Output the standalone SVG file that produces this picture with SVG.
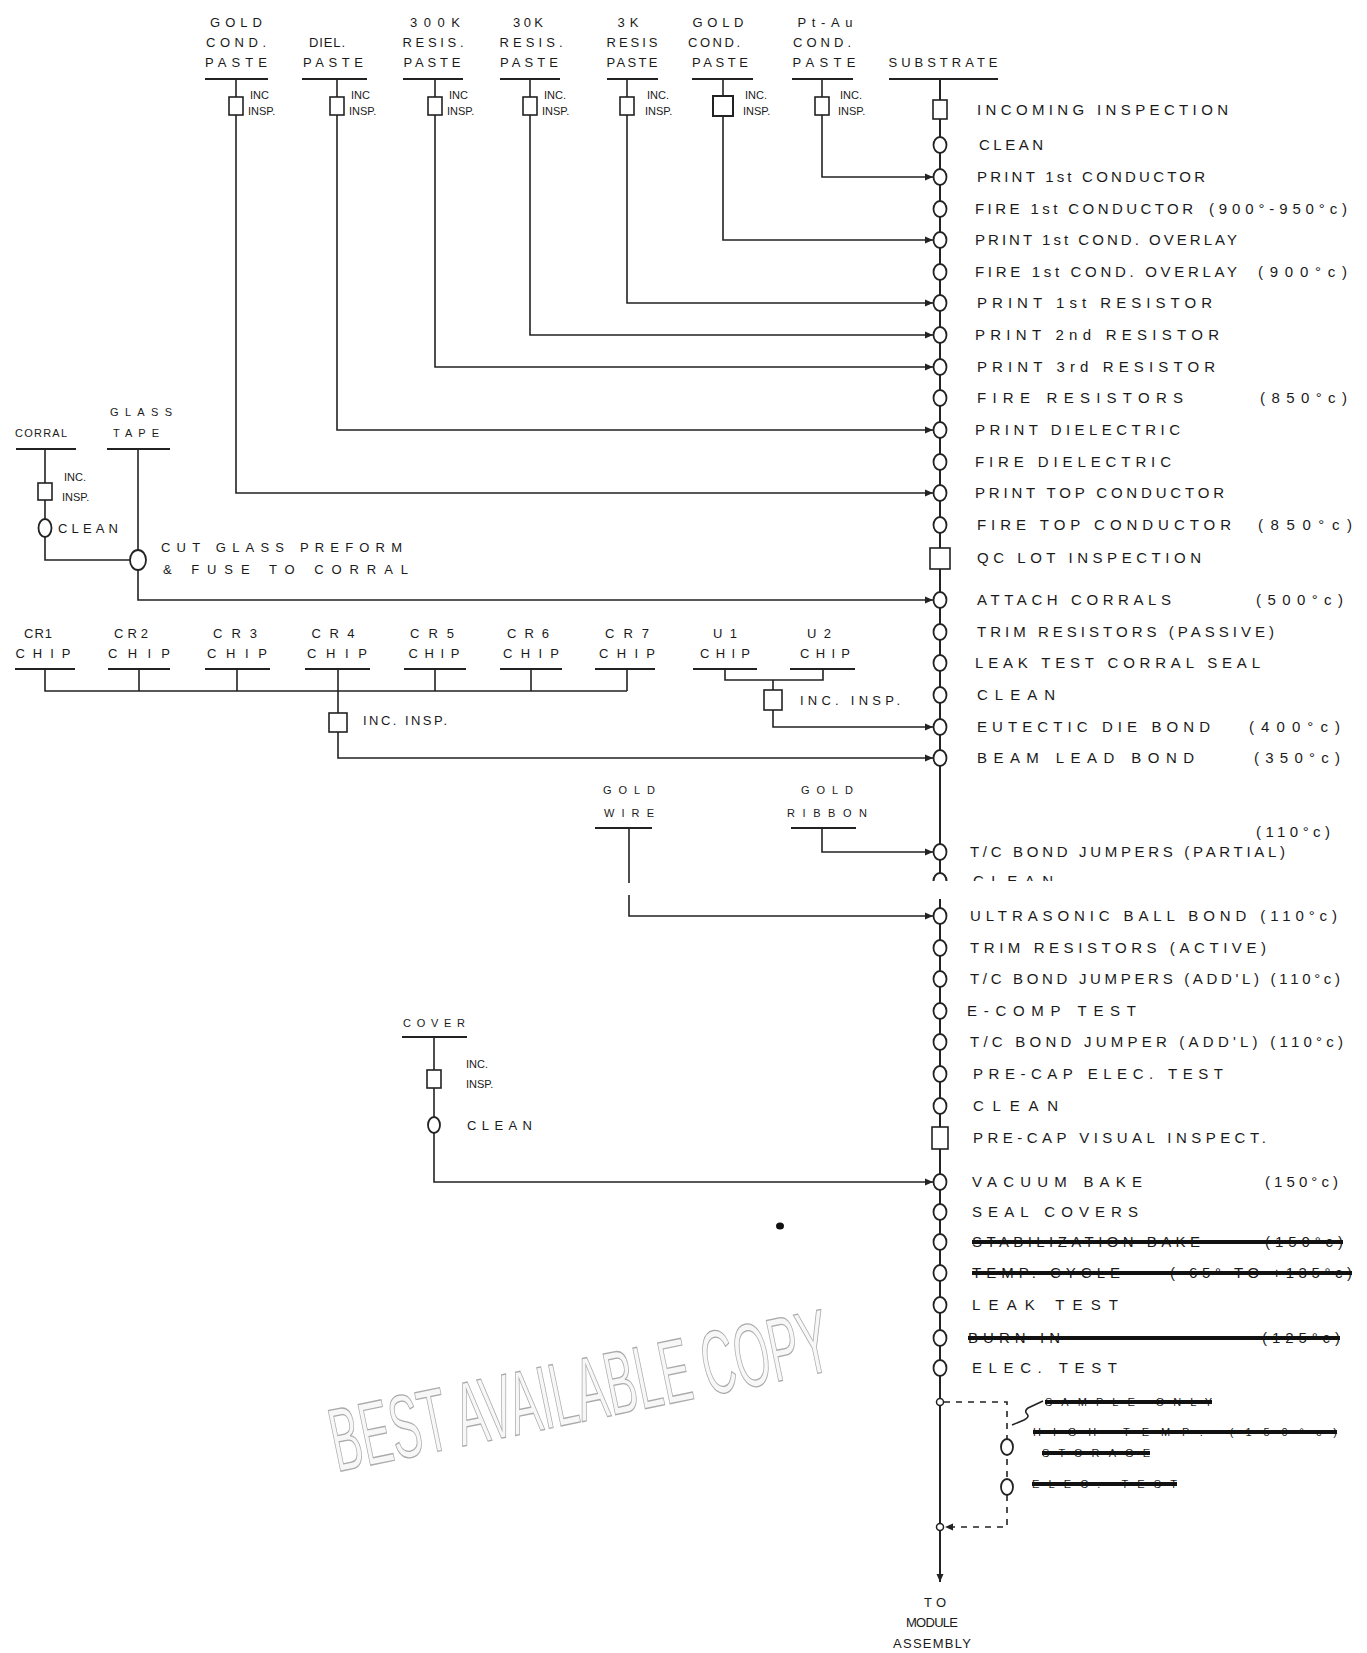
<svg xmlns="http://www.w3.org/2000/svg" width="1367" height="1653" viewBox="0 0 1367 1653">
<style>
.ln{stroke:#222;stroke-width:1.6;fill:none}
.sp{stroke:#222;stroke-width:2;fill:none}
.ds{stroke:#222;stroke-width:1.6;fill:none;stroke-dasharray:6 6}
.bar{stroke:#222;stroke-width:2}
.nd{fill:#fff;stroke:#222;stroke-width:1.8}
.bx{fill:#fff;stroke:#222;stroke-width:1.6}
.t{font-family:"Liberation Sans",Arial,sans-serif;font-size:15px;fill:#1a1a1a}
.h{font-family:"Liberation Sans",Arial,sans-serif;font-size:13px;fill:#1a1a1a}
.s{font-family:"Liberation Sans",Arial,sans-serif;font-size:11px;fill:#1a1a1a}
.m{text-anchor:middle}
.e{text-anchor:end}
.st{stroke:#111;stroke-width:4;fill:none}
.wm{font-family:"Liberation Sans",Arial,sans-serif;font-size:90px;fill:#f7f7f7;stroke:#aaa;stroke-width:1.3}
</style>
<defs>
<marker id="ar" markerUnits="userSpaceOnUse" markerWidth="9" markerHeight="8" refX="8" refY="4" orient="auto"><path d="M0,0.5 L8,4 L0,7.5 z" fill="#222"/></marker>
<clipPath id="halfclean"><rect x="960" y="868" width="140" height="13"/></clipPath>
</defs>
<rect width="1367" height="1653" fill="#fff"/>

<g id="watermark">
<text class="wm" transform="translate(337,1472) rotate(-11.6) scale(0.48,1)" textLength="1058" lengthAdjust="spacingAndGlyphs">BEST AVAILABLE COPY</text>
<ellipse cx="780" cy="1226" rx="4" ry="3.5" fill="#111"/>
</g>

<g id="connectors">
<path class="sp" d="M940,79 V873"/>
<path class="sp" d="M933.5,881 A6.5,8 0 0 1 946.5,881"/>
<path class="sp" d="M940,899 V1582" marker-end="url(#ar)"/>
<path class="ln" d="M822,79 V177 H933" marker-end="url(#ar)"/>
<path class="ln" d="M723,79 V240 H933" marker-end="url(#ar)"/>
<path class="ln" d="M627,79 V303 H933" marker-end="url(#ar)"/>
<path class="ln" d="M530,79 V335 H933" marker-end="url(#ar)"/>
<path class="ln" d="M435,79 V367 H933" marker-end="url(#ar)"/>
<path class="ln" d="M337,79 V430 H933" marker-end="url(#ar)"/>
<path class="ln" d="M236,79 V493 H933" marker-end="url(#ar)"/>
<path class="ln" d="M45,449 V560 H130"/>
<path class="ln" d="M138,449 V600 H933" marker-end="url(#ar)"/>
<path class="ln" d="M45,669 V691 H627 M139,669 V691 M237,669 V691 M435,669 V691 M531,669 V691 M627,669 V691"/>
<path class="ln" d="M338,669 V758 H933" marker-end="url(#ar)"/>
<path class="ln" d="M725,669 V680 H823 V669 M773,680 V727 H933" marker-end="url(#ar)"/>
<path class="ln" d="M629,828 V883 M629,895 V916 H933" marker-end="url(#ar)"/>
<path class="ln" d="M822,828 V852 H933" marker-end="url(#ar)"/>
<path class="ln" d="M434,1037 V1182 H933" marker-end="url(#ar)"/>
<path class="ds" d="M944,1402 H1007 V1527 H945" marker-end="url(#ar)"/>
<path class="ln" d="M1043,1401 L1028,1408 q-4,3 -1,6 q3,3 -3,6 L1012,1425"/>
</g>

<g id="src-gold-cond-1">
<text class="h m" x="236" y="27" textLength="52">GOLD</text>
<text class="h m" x="236" y="47" textLength="60">COND.</text>
<text class="h m" x="236" y="67" textLength="62">PASTE</text>
<line class="bar" x1="205" y1="79" x2="268" y2="79"/>
<rect class="bx" x="229" y="97" width="14" height="18"/>
<text class="s" x="250" y="99">INC</text><text class="s" x="248" y="115">INSP.</text>
</g>
<g id="src-diel">
<text class="h m" x="327" y="47" textLength="36">DIEL.</text>
<text class="h m" x="333" y="67" textLength="60">PASTE</text>
<line class="bar" x1="302" y1="79" x2="367" y2="79"/>
<rect class="bx" x="330" y="97" width="14" height="18"/>
<text class="s" x="351" y="99">INC</text><text class="s" x="349" y="115">INSP.</text>
</g>
<g id="src-300k">
<text class="h m" x="435" y="27" textLength="50">300K</text>
<text class="h m" x="433" y="47" textLength="61">RESIS.</text>
<text class="h m" x="432" y="67" textLength="57">PASTE</text>
<line class="bar" x1="403" y1="79" x2="463" y2="79"/>
<rect class="bx" x="428" y="97" width="14" height="18"/>
<text class="s" x="449" y="99">INC</text><text class="s" x="447" y="115">INSP.</text>
</g>
<g id="src-30k">
<text class="h m" x="528" y="27" textLength="30">30K</text>
<text class="h m" x="531" y="47" textLength="63">RESIS.</text>
<text class="h m" x="529" y="67" textLength="58">PASTE</text>
<line class="bar" x1="500" y1="79" x2="560" y2="79"/>
<rect class="bx" x="523" y="97" width="14" height="18"/>
<text class="s" x="544" y="99">INC.</text><text class="s" x="542" y="115">INSP.</text>
</g>
<g id="src-3k">
<text class="h m" x="628" y="27" textLength="21">3K</text>
<text class="h m" x="632" y="47" textLength="51">RESIS</text>
<text class="h m" x="632" y="67" textLength="51">PASTE</text>
<line class="bar" x1="607" y1="79" x2="658" y2="79"/>
<rect class="bx" x="620" y="97" width="14" height="18"/>
<text class="s" x="647" y="99">INC.</text><text class="s" x="645" y="115">INSP.</text>
</g>
<g id="src-gold-cond-2">
<text class="h m" x="718" y="27" textLength="51">GOLD</text>
<text class="h m" x="714" y="47" textLength="52">COND.</text>
<text class="h m" x="720" y="67" textLength="56">PASTE</text>
<line class="bar" x1="692" y1="79" x2="753" y2="79"/>
<rect class="bx" x="713" y="96" width="20" height="20" style="stroke-width:2"/>
<text class="s" x="745" y="99">INC.</text><text class="s" x="743" y="115">INSP.</text>
</g>
<g id="src-ptau">
<text class="h m" x="825" y="27" textLength="55">Pt-Au</text>
<text class="h m" x="822" y="47" textLength="58">COND.</text>
<text class="h m" x="824" y="67" textLength="63">PASTE</text>
<line class="bar" x1="792" y1="79" x2="853" y2="79"/>
<rect class="bx" x="815" y="97" width="14" height="18"/>
<text class="s" x="840" y="99">INC.</text><text class="s" x="838" y="115">INSP.</text>
</g>
<g id="src-substrate">
<text class="h m" x="943" y="67" textLength="109">SUBSTRATE</text>
<line class="bar" x1="889" y1="79" x2="998" y2="79"/>
</g>

<g id="src-corral">
<text class="s" x="15" y="437" textLength="52">CORRAL</text>
<line class="bar" x1="16" y1="449" x2="76" y2="449"/>
<rect class="bx" x="38" y="483" width="14" height="17"/>
<text class="s" x="64" y="481">INC.</text><text class="s" x="62" y="501">INSP.</text>
<ellipse class="nd" cx="45" cy="528" rx="6.5" ry="9"/>
<text class="h" x="58" y="533" textLength="60">CLEAN</text>
</g>
<g id="src-glass-tape">
<text class="s m" x="141" y="416" textLength="62">GLASS</text>
<text class="s m" x="136" y="437" textLength="46">TAPE</text>
<line class="bar" x1="107" y1="449" x2="170" y2="449"/>
<ellipse class="nd" cx="138" cy="560" rx="8" ry="10"/>
<text class="h" x="161" y="552" textLength="241">CUT GLASS PREFORM</text>
<text class="h" x="163" y="574" textLength="245">&amp; FUSE TO CORRAL</text>
</g>

<g id="src-chips">
<text class="h m" x="38" y="638" textLength="28">CR1</text><text class="h m" x="43" y="658" textLength="55">CHIP</text>
<line class="bar" x1="15" y1="669" x2="75" y2="669"/>
<text class="h m" x="131" y="638" textLength="34">CR2</text><text class="h m" x="139" y="658" textLength="62">CHIP</text>
<line class="bar" x1="108" y1="669" x2="170" y2="669"/>
<text class="h m" x="235" y="638" textLength="44">CR3</text><text class="h m" x="237" y="658" textLength="60">CHIP</text>
<line class="bar" x1="205" y1="669" x2="270" y2="669"/>
<text class="h m" x="333" y="638" textLength="43">CR4</text><text class="h m" x="337" y="658" textLength="60">CHIP</text>
<line class="bar" x1="305" y1="669" x2="370" y2="669"/>
<text class="h m" x="432" y="638" textLength="44">CR5</text><text class="h m" x="434" y="658" textLength="51">CHIP</text>
<line class="bar" x1="404" y1="669" x2="466" y2="669"/>
<text class="h m" x="528" y="638" textLength="42">CR6</text><text class="h m" x="531" y="658" textLength="56">CHIP</text>
<line class="bar" x1="500" y1="669" x2="562" y2="669"/>
<text class="h m" x="627" y="638" textLength="44">CR7</text><text class="h m" x="627" y="658" textLength="56">CHIP</text>
<line class="bar" x1="595" y1="669" x2="655" y2="669"/>
<rect class="bx" x="329" y="713" width="18" height="19"/>
<text class="h" x="363" y="725" textLength="84">INC. INSP.</text>
</g>
<g id="src-u-chips">
<text class="h m" x="725" y="638" textLength="24">U1</text><text class="h m" x="725" y="658" textLength="50">CHIP</text>
<line class="bar" x1="693" y1="669" x2="757" y2="669"/>
<text class="h m" x="819" y="638" textLength="24">U2</text><text class="h m" x="825" y="658" textLength="50">CHIP</text>
<line class="bar" x1="790" y1="669" x2="855" y2="669"/>
<rect class="bx" x="764" y="690" width="18" height="20"/>
<text class="h" x="800" y="705" textLength="100">INC. INSP.</text>
</g>
<g id="src-gold-wire">
<text class="s m" x="629" y="794" textLength="52">GOLD</text>
<text class="s m" x="629" y="817" textLength="50">WIRE</text>
<line class="bar" x1="595" y1="828" x2="652" y2="828"/>
</g>
<g id="src-gold-ribbon">
<text class="s m" x="827" y="794" textLength="52">GOLD</text>
<text class="s m" x="827" y="817" textLength="80">RIBBON</text>
<line class="bar" x1="791" y1="828" x2="856" y2="828"/>
</g>
<g id="src-cover">
<text class="s m" x="434" y="1027" textLength="62">COVER</text>
<line class="bar" x1="402" y1="1037" x2="467" y2="1037"/>
<rect class="bx" x="427" y="1070" width="14" height="18"/>
<text class="s" x="466" y="1068">INC.</text><text class="s" x="466" y="1088">INSP.</text>
<ellipse class="nd" cx="434" cy="1125" rx="6" ry="8"/>
<text class="h" x="467" y="1130" textLength="65">CLEAN</text>
</g>

<g id="steps">
<g id="s01"><rect class="bx" x="933" y="100" width="14" height="19"/><text class="t" x="977" y="115" textLength="251">INCOMING INSPECTION</text></g>
<g id="s02"><ellipse class="nd" cx="940" cy="145" rx="6.5" ry="8"/><text class="t" x="979" y="150" textLength="64">CLEAN</text></g>
<g id="s03"><ellipse class="nd" cx="940" cy="177" rx="6.5" ry="8"/><text class="t" x="977" y="182" textLength="228">PRINT 1st CONDUCTOR</text></g>
<g id="s04"><ellipse class="nd" cx="940" cy="209" rx="6.5" ry="8"/><text class="t" x="975" y="214" textLength="218">FIRE 1st CONDUCTOR</text><text class="t" x="1209" y="214" textLength="138">(900°-950°c)</text></g>
<g id="s05"><ellipse class="nd" cx="940" cy="240" rx="6.5" ry="8"/><text class="t" x="975" y="245" textLength="262">PRINT 1st COND. OVERLAY</text></g>
<g id="s06"><ellipse class="nd" cx="940" cy="272" rx="6.5" ry="8"/><text class="t" x="975" y="277" textLength="262">FIRE 1st COND. OVERLAY</text><text class="t" x="1258" y="277" textLength="89">(900°c)</text></g>
<g id="s07"><ellipse class="nd" cx="940" cy="303" rx="6.5" ry="8"/><text class="t" x="977" y="308" textLength="235">PRINT 1st RESISTOR</text></g>
<g id="s08"><ellipse class="nd" cx="940" cy="335" rx="6.5" ry="8"/><text class="t" x="975" y="340" textLength="244">PRINT 2nd RESISTOR</text></g>
<g id="s09"><ellipse class="nd" cx="940" cy="367" rx="6.5" ry="8"/><text class="t" x="977" y="372" textLength="238">PRINT 3rd RESISTOR</text></g>
<g id="s10"><ellipse class="nd" cx="940" cy="398" rx="6.5" ry="8"/><text class="t" x="977" y="403" textLength="206">FIRE RESISTORS</text><text class="t" x="1260" y="403" textLength="87">(850°c)</text></g>
<g id="s11"><ellipse class="nd" cx="940" cy="430" rx="6.5" ry="8"/><text class="t" x="975" y="435" textLength="205">PRINT DIELECTRIC</text></g>
<g id="s12"><ellipse class="nd" cx="940" cy="462" rx="6.5" ry="8"/><text class="t" x="975" y="467" textLength="196">FIRE DIELECTRIC</text></g>
<g id="s13"><ellipse class="nd" cx="940" cy="493" rx="6.5" ry="8"/><text class="t" x="975" y="498" textLength="249">PRINT TOP CONDUCTOR</text></g>
<g id="s14"><ellipse class="nd" cx="940" cy="525" rx="6.5" ry="8"/><text class="t" x="977" y="530" textLength="254">FIRE TOP CONDUCTOR</text><text class="t" x="1258" y="530" textLength="94">(850°c)</text></g>
<g id="s15"><rect class="bx" x="930" y="548" width="20" height="21"/><text class="t" x="977" y="563" textLength="224">QC LOT INSPECTION</text></g>
<g id="s16"><ellipse class="nd" cx="940" cy="600" rx="6.5" ry="8"/><text class="t" x="977" y="605" textLength="194">ATTACH CORRALS</text><text class="t" x="1256" y="605" textLength="87">(500°c)</text></g>
<g id="s17"><ellipse class="nd" cx="940" cy="632" rx="6.5" ry="8"/><text class="t" x="977" y="637" textLength="297">TRIM RESISTORS (PASSIVE)</text></g>
<g id="s18"><ellipse class="nd" cx="940" cy="663" rx="6.5" ry="8"/><text class="t" x="975" y="668" textLength="285">LEAK TEST CORRAL SEAL</text></g>
<g id="s19"><ellipse class="nd" cx="940" cy="695" rx="6.5" ry="8"/><text class="t" x="977" y="700" textLength="78">CLEAN</text></g>
<g id="s20"><ellipse class="nd" cx="940" cy="727" rx="6.5" ry="8"/><text class="t" x="977" y="732" textLength="233">EUTECTIC DIE BOND</text><text class="t" x="1249" y="732" textLength="91">(400°c)</text></g>
<g id="s21"><ellipse class="nd" cx="940" cy="758" rx="6.5" ry="8"/><text class="t" x="977" y="763" textLength="217">BEAM LEAD BOND</text><text class="t" x="1254" y="763" textLength="86">(350°c)</text></g>
<g id="s22"><text class="t" x="1256" y="837" textLength="74">(110°c)</text><ellipse class="nd" cx="940" cy="852" rx="6.5" ry="8"/><text class="t" x="970" y="857" textLength="315">T/C BOND JUMPERS (PARTIAL)</text></g>
<g id="s23"><text class="t" x="973" y="886" textLength="80" clip-path="url(#halfclean)">CLEAN</text></g>
<g id="s24"><ellipse class="nd" cx="940" cy="916" rx="6.5" ry="8"/><text class="t" x="970" y="921" textLength="367">ULTRASONIC BALL BOND (110°c)</text></g>
<g id="s25"><ellipse class="nd" cx="940" cy="948" rx="6.5" ry="8"/><text class="t" x="970" y="953" textLength="296">TRIM RESISTORS (ACTIVE)</text></g>
<g id="s26"><ellipse class="nd" cx="940" cy="979" rx="6.5" ry="8"/><text class="t" x="970" y="984" textLength="370">T/C BOND JUMPERS (ADD'L) (110°c)</text></g>
<g id="s27"><ellipse class="nd" cx="940" cy="1011" rx="6.5" ry="8"/><text class="t" x="967" y="1016" textLength="169">E-COMP TEST</text></g>
<g id="s28"><ellipse class="nd" cx="940" cy="1042" rx="6.5" ry="8"/><text class="t" x="970" y="1047" textLength="373">T/C BOND JUMPER (ADD'L) (110°c)</text></g>
<g id="s29"><ellipse class="nd" cx="940" cy="1074" rx="6.5" ry="8"/><text class="t" x="973" y="1079" textLength="250">PRE-CAP ELEC. TEST</text></g>
<g id="s30"><ellipse class="nd" cx="940" cy="1106" rx="6.5" ry="8"/><text class="t" x="973" y="1111" textLength="85">CLEAN</text></g>
<g id="s31"><rect class="bx" x="932" y="1127" width="16" height="22"/><text class="t" x="973" y="1143" textLength="293">PRE-CAP VISUAL INSPECT.</text></g>
<g id="s32"><ellipse class="nd" cx="940" cy="1182" rx="6.5" ry="8"/><text class="t" x="972" y="1187" textLength="170">VACUUM BAKE</text><text class="t" x="1265" y="1187" textLength="73">(150°c)</text></g>
<g id="s33"><ellipse class="nd" cx="940" cy="1212" rx="6.5" ry="8"/><text class="t" x="972" y="1217" textLength="166">SEAL COVERS</text></g>
<g id="s34"><ellipse class="nd" cx="940" cy="1242" rx="6.5" ry="8"/><text class="t" x="972" y="1247" textLength="228">STABILIZATION BAKE</text><text class="t" x="1265" y="1247" textLength="78">(150°c)</text><line class="st" x1="972" y1="1242" x2="1343" y2="1242"/></g>
<g id="s35"><ellipse class="nd" cx="940" cy="1273" rx="6.5" ry="8"/><text class="t" x="972" y="1278" textLength="148">TEMP. CYCLE</text><text class="t" x="1170" y="1278" textLength="182">(-65° TO +135°c)</text><line class="st" x1="972" y1="1273" x2="1352" y2="1273"/></g>
<g id="s36"><ellipse class="nd" cx="940" cy="1305" rx="6.5" ry="8"/><text class="t" x="972" y="1310" textLength="146">LEAK TEST</text></g>
<g id="s37"><ellipse class="nd" cx="940" cy="1338" rx="6.5" ry="8"/><text class="t" x="968" y="1343" textLength="92">BURN IN</text><text class="t" x="1262" y="1343" textLength="78">(125°c)</text><line class="st" x1="968" y1="1338" x2="1340" y2="1338"/></g>
<g id="s38"><ellipse class="nd" cx="940" cy="1368" rx="6.5" ry="8"/><text class="t" x="972" y="1373" textLength="145">ELEC. TEST</text></g>
<g id="j1"><circle class="nd" cx="940" cy="1402" r="3.5" style="stroke-width:1.5"/></g>
<g id="j2"><circle class="nd" cx="940" cy="1527" r="3.5" style="stroke-width:1.5"/></g>
<g id="b1"><text class="s" x="1045" y="1406" textLength="167">SAMPLE ONLY</text><line class="st" x1="1045" y1="1402" x2="1212" y2="1402"/></g>
<g id="b2"><ellipse class="nd" cx="1007" cy="1447" rx="6" ry="8"/><text class="s" x="1033" y="1436" textLength="304">HIGH TEMP. (150°c)</text><line class="st" x1="1033" y1="1432" x2="1337" y2="1432"/><text class="s" x="1042" y="1457" textLength="108">STORAGE</text><line class="st" x1="1042" y1="1453" x2="1150" y2="1453"/></g>
<g id="b3"><ellipse class="nd" cx="1007" cy="1487" rx="6" ry="8"/><text class="s" x="1032" y="1488" textLength="145">ELEC. TEST</text><line class="st" x1="1032" y1="1484" x2="1177" y2="1484"/></g>
<g id="end"><text class="h m" x="935" y="1607" textLength="22">TO</text><text class="h m" x="932" y="1627" textLength="52">MODULE</text><text class="h m" x="932" y="1648" textLength="78">ASSEMBLY</text></g>
</g>
</svg>
